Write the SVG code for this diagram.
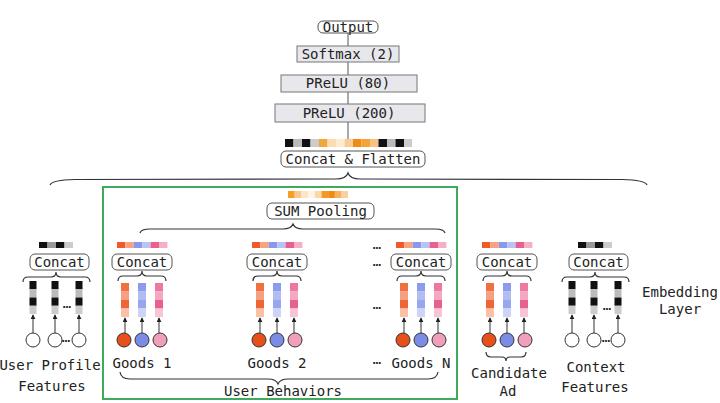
<svg xmlns="http://www.w3.org/2000/svg" xmlns:xlink="http://www.w3.org/1999/xlink" width="720" height="403" viewBox="0 0 720 403">
<style>
.t{font-family:"DejaVu Sans Mono","Liberation Mono",monospace;font-size:14px;fill:#222;text-anchor:middle}
.box{fill:#fff;stroke:#555;stroke-width:1}
.layer{fill:#e8e8ec;stroke:#777;stroke-width:1}
.br{fill:none;stroke:#333;stroke-width:1.2}
.ar{stroke:#333;stroke-width:1;marker-end:url(#ah)}
.ln{stroke:#555;stroke-width:1}
.c{stroke:#333;stroke-width:1}
</style>
<defs>
<marker id="ah" viewBox="0 0 6 6" refX="5" refY="3" markerWidth="5" markerHeight="5" orient="auto"><path d="M0,0 L6,3 L0,6 z" fill="#222"/></marker>
<g id="gunit">
<rect x="-25" y="242" width="8.4" height="6" fill="#ee5a2a"/>
<rect x="-16.6" y="242" width="8.4" height="6" fill="#f6a283"/>
<rect x="-8.2" y="242" width="8.4" height="6" fill="#8a98ea"/>
<rect x="0.2" y="242" width="8.4" height="6" fill="#b8c2f3"/>
<rect x="8.6" y="242" width="8.4" height="6" fill="#e8608e"/>
<rect x="17" y="242" width="8.4" height="6" fill="#f5b0c5"/>
<rect class="box" x="-30" y="254" width="60" height="16" rx="5"/>
<path class="br" d="M-24,281 Q-24,276 -19,276 L-5,276 Q0,276 0,271 Q0,276 5,276 L19,276 Q24,276 24,281"/>
<rect x="-21" y="283" width="8" height="8.5" fill="#f07040"/>
<rect x="-21" y="291.5" width="8" height="8.5" fill="#f5a080"/>
<rect x="-21" y="300" width="8" height="8.5" fill="#ef6636"/>
<rect x="-21" y="308.5" width="8" height="8.5" fill="#fbc0a8"/>
<rect x="-4" y="283" width="8" height="8.5" fill="#8c9cec"/>
<rect x="-4" y="291.5" width="8" height="8.5" fill="#b0bcf2"/>
<rect x="-4" y="300" width="8" height="8.5" fill="#98a6ee"/>
<rect x="-4" y="308.5" width="8" height="8.5" fill="#cdd4f7"/>
<rect x="13" y="283" width="8" height="8.5" fill="#ec7aa0"/>
<rect x="13" y="291.5" width="8" height="8.5" fill="#f3a8c0"/>
<rect x="13" y="300" width="8" height="8.5" fill="#e86090"/>
<rect x="13" y="308.5" width="8" height="8.5" fill="#f7c5d5"/>
<line class="ar" x1="-17" y1="333" x2="-17" y2="318"/>
<line class="ar" x1="0" y1="333" x2="0" y2="318"/>
<line class="ar" x1="17" y1="333" x2="17" y2="318"/>
<circle class="c" cx="-18" cy="340" r="7" fill="#e8501a"/>
<circle class="c" cx="0" cy="340" r="7" fill="#7b8be6"/>
<circle class="c" cx="18" cy="340" r="7" fill="#f0a0bc"/>
</g>
<g id="punit">
<rect x="-16" y="242" width="8.5" height="6" fill="#111"/>
<rect x="-7.5" y="242" width="8.5" height="6" fill="#999"/>
<rect x="1" y="242" width="8.5" height="6" fill="#111"/>
<rect x="9.5" y="242" width="8.5" height="6" fill="#ccc"/>
<rect class="box" x="-25" y="254" width="59" height="16" rx="5"/>
<path class="br" d="M-32,282 Q-32,277 -27,277 L-4,277 Q1,277 1,272 Q1,277 6,277 L30,277 Q35,277 35,282"/>
<rect x="-25.5" y="281" width="7" height="8.25" fill="#111"/>
<rect x="-25.5" y="289.25" width="7" height="8.25" fill="#bbb"/>
<rect x="-25.5" y="297.5" width="7" height="8.25" fill="#111"/>
<rect x="-25.5" y="305.75" width="7" height="8.25" fill="#ccc"/>
<rect x="-3.5" y="281" width="7" height="8.25" fill="#111"/>
<rect x="-3.5" y="289.25" width="7" height="8.25" fill="#bbb"/>
<rect x="-3.5" y="297.5" width="7" height="8.25" fill="#111"/>
<rect x="-3.5" y="305.75" width="7" height="8.25" fill="#ccc"/>
<rect x="20.5" y="281" width="7" height="8.25" fill="#111"/>
<rect x="20.5" y="289.25" width="7" height="8.25" fill="#bbb"/>
<rect x="20.5" y="297.5" width="7" height="8.25" fill="#111"/>
<rect x="20.5" y="305.75" width="7" height="8.25" fill="#ccc"/>
<line class="ar" x1="-22" y1="333" x2="-22" y2="315"/>
<line class="ar" x1="0" y1="333" x2="0" y2="315"/>
<line class="ar" x1="24" y1="333" x2="24" y2="315"/>
<circle class="c" cx="-22" cy="340" r="7" fill="#fff"/>
<circle class="c" cx="0" cy="340" r="7" fill="#fff"/>
<circle class="c" cx="24" cy="340" r="7" fill="#fff"/>
</g>
</defs>
<rect width="720" height="403" fill="#fff"/>

<g id="connectors">
<line class="ln" x1="348" y1="33" x2="348" y2="139"/>
<path class="br" d="M50,185 Q52,180 75,179.5 L336,179 Q346,179 348,173 Q350,179 360,179 L622,179.5 Q645,180 647,185"/>
<path class="br" d="M140,233 Q141,229 150,229 L283,229 Q291,229 293,224 Q295,229 303,229 L435,229 Q444,229 445,233"/>
<path class="br" d="M120,372 Q121,379 130,379 L268,379 Q276,379 278,384 Q280,379 288,379 L428,379 Q437,379 438,372"/>
<path class="br" d="M486,352 Q486,357 491,357 L502,357 Q506,357 506,361 Q506,357 510,357 L521,357 Q526,357 526,352"/>
</g>

<g id="output"><rect class="box" x="318" y="21" width="60" height="12" rx="5"/><text class="t" x="348" y="31.5">Output</text></g>
<g id="softmax"><rect class="layer" x="297" y="46" width="102" height="16"/><text class="t" x="348" y="58.5">Softmax (2)</text></g>
<g id="prelu80"><rect class="layer" x="281" y="75" width="136" height="17"/><text class="t" x="348" y="88">PReLU (80)</text></g>
<g id="prelu200"><rect class="layer" x="275" y="104" width="150" height="18"/><text class="t" x="349" y="117.5">PReLU (200)</text></g>
<g id="concat-flatten">
<rect x="285" y="139" width="8.5" height="8" fill="#111"/>
<rect x="293.5" y="139" width="8.5" height="8" fill="#bbb"/>
<rect x="302" y="139" width="8.5" height="8" fill="#111"/>
<rect x="310.5" y="139" width="8.5" height="8" fill="#ccc"/>
<rect x="319" y="139" width="8.5" height="8" fill="#f2a53a"/>
<rect x="327.5" y="139" width="8.5" height="8" fill="#fcdcb0"/>
<rect x="336" y="139" width="8.5" height="8" fill="#fdeacf"/>
<rect x="344.5" y="139" width="8.5" height="8" fill="#f9cc94"/>
<rect x="353" y="139" width="8.5" height="8" fill="#f08a16"/>
<rect x="361.5" y="139" width="8.5" height="8" fill="#f5a23a"/>
<rect x="370" y="139" width="8.5" height="8" fill="#f9c285"/>
<rect x="378.5" y="139" width="8.5" height="8" fill="#111"/>
<rect x="387" y="139" width="8.5" height="8" fill="#bbb"/>
<rect x="395.5" y="139" width="8.5" height="8" fill="#111"/>
<rect x="404" y="139" width="8" height="8" fill="#ccc"/>
<rect class="box" x="281" y="151" width="144" height="16" rx="5"/>
<text class="t" x="353" y="163.5">Concat &amp; Flatten</text>
</g>

<g id="user-behaviors">
<rect x="103" y="187" width="354" height="212" fill="none" stroke="#3daa5c" stroke-width="2"/>
<text class="t" x="283" y="396">User Behaviors</text>
</g>
<g id="sum-pooling">
<rect x="288" y="191" width="6.7" height="7" fill="#f5a020"/>
<rect x="294.7" y="191" width="6.7" height="7" fill="#f9c890"/>
<rect x="301.4" y="191" width="6.7" height="7" fill="#fde6c8"/>
<rect x="308.1" y="191" width="6.7" height="7" fill="#fff4e8"/>
<rect x="314.8" y="191" width="6.7" height="7" fill="#fcd8a8"/>
<rect x="321.5" y="191" width="6.7" height="7" fill="#f59a20"/>
<rect x="328.2" y="191" width="6.7" height="7" fill="#f08a10"/>
<rect x="334.9" y="191" width="6.7" height="7" fill="#f8b060"/>
<rect x="341.6" y="191" width="6.4" height="7" fill="#fbd0a0"/>
<rect class="box" x="267" y="203" width="107" height="16" rx="5"/>
<text class="t" x="320.5" y="215.5">SUM Pooling</text>
</g>

<g id="user-profile">
<use xlink:href="#punit" transform="translate(55,0)"/>
<text class="t" x="59.5" y="266.5">Concat</text>
<text class="t" x="67" y="308">…</text>
<text class="t" x="66" y="342">…</text>
<text class="t" x="50" y="370">User Profile</text>
<text class="t" x="52" y="391">Features</text>
</g>
<g id="goods1">
<use xlink:href="#gunit" transform="translate(142,0)"/>
<text class="t" x="142" y="266.5">Concat</text>
<text class="t" x="142" y="368">Goods 1</text>
</g>
<g id="goods2">
<use xlink:href="#gunit" transform="translate(277,0)"/>
<text class="t" x="277" y="266.5">Concat</text>
<text class="t" x="277" y="368">Goods 2</text>
</g>
<g id="goodsN">
<use xlink:href="#gunit" transform="translate(421,0)"/>
<text class="t" x="421" y="266.5">Concat</text>
<text class="t" x="377" y="249">…</text>
<text class="t" x="377" y="266">…</text>
<text class="t" x="377" y="309">…</text>
<text class="t" x="377" y="364">…</text>
<text class="t" x="421" y="368">Goods N</text>
</g>
<g id="candidate-ad">
<use xlink:href="#gunit" transform="translate(507,0)"/>
<text class="t" x="507" y="266.5">Concat</text>
<text class="t" x="509" y="378">Candidate</text>
<text class="t" x="508" y="396">Ad</text>
</g>
<g id="context-features">
<use xlink:href="#punit" transform="translate(594,0)"/>
<text class="t" x="598.5" y="266.5">Concat</text>
<text class="t" x="607" y="310">…</text>
<text class="t" x="606" y="342">…</text>
<text class="t" x="596" y="372">Context</text>
<text class="t" x="595" y="392">Features</text>
</g>
<g id="embedding-layer">
<text class="t" x="680" y="297">Embedding</text>
<text class="t" x="680" y="314">Layer</text>
</g>
</svg>
